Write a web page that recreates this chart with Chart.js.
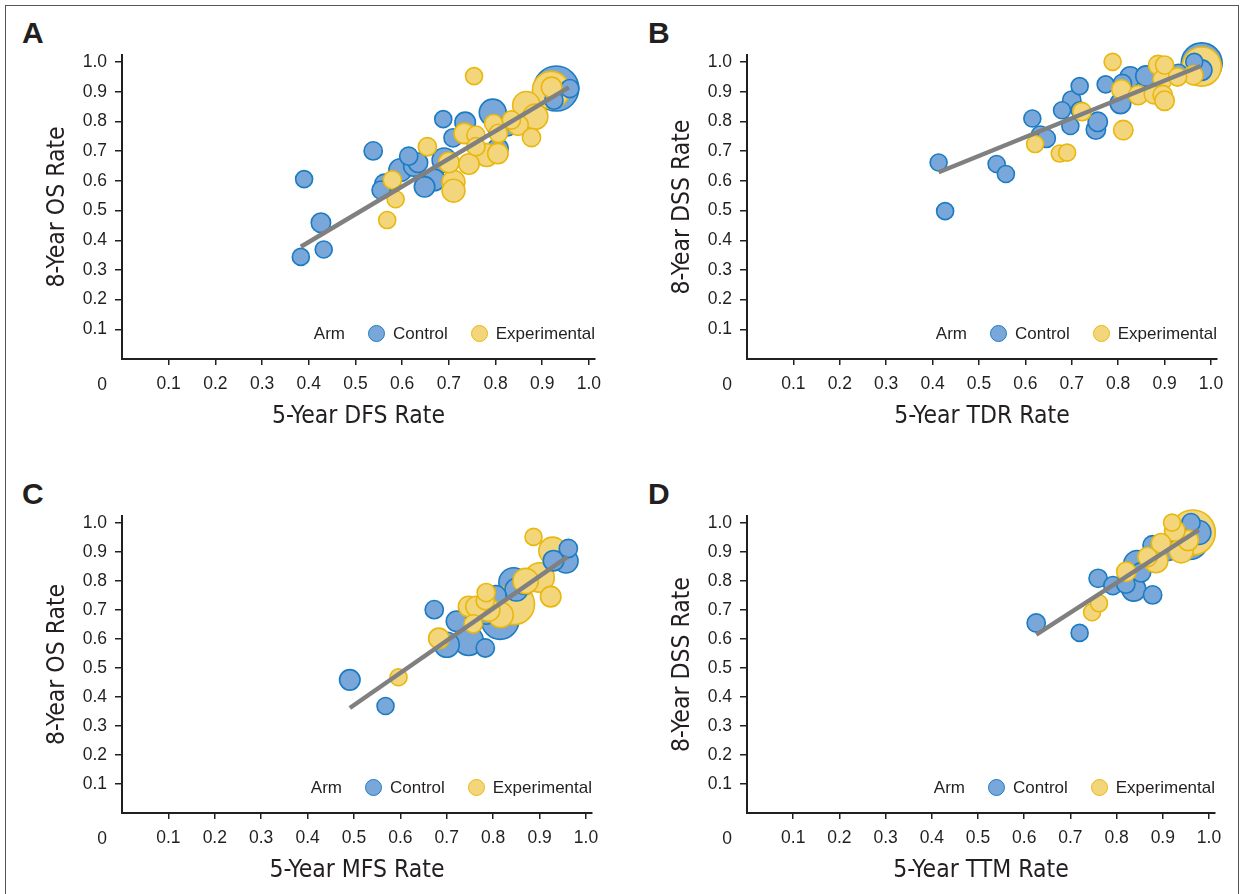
<!DOCTYPE html>
<html>
<head>
<meta charset="utf-8">
<script src="https://cdn.jsdelivr.net/npm/chart.js@4.4.0/dist/chart.umd.min.js"></script>
<style>
  html, body { margin: 0; padding: 0; background: #fff; }
  body { width: 1242px; height: 894px; position: relative; overflow: hidden; font-family: 'Liberation Sans', Arial, sans-serif; color: #231f20; }
  .frame { position: absolute; left: 5px; top: 5px; width: 1232px; height: 900px; border: 1.5px solid #555; border-bottom: none; }
  .panel { position: absolute; height: 447px; }
  .panel canvas { position: absolute; left: 0; top: 0; }
  .tag { position: absolute; font: bold 30px/30px 'Liberation Sans', Arial, sans-serif; }
  .legend { position: absolute; display: flex; align-items: center; height: 20px; font-size: 17px; white-space: nowrap; }
  .legend .dot { width: 17px; height: 17px; border-radius: 50%; box-sizing: border-box; border: 1.5px solid; margin: 0 8px 0 23px; }
</style>
</head>
<body>
<div class="frame"></div>
<div class="tag" style="left:22px;top:18px">A</div>
<div class="tag" style="left:648px;top:18px">B</div>
<div class="tag" style="left:22px;top:479px">C</div>
<div class="tag" style="left:648px;top:479px">D</div>
<div class="panel" id="panelA" style="left:0;top:0;width:620px"><canvas id="chartA" width="620" height="447"></canvas></div>
<div class="panel" id="panelB" style="left:620px;top:0;width:622px"><canvas id="chartB" width="622" height="447"></canvas></div>
<div class="panel" id="panelC" style="left:0;top:447px;width:620px"><canvas id="chartC" width="620" height="447"></canvas></div>
<div class="panel" id="panelD" style="left:620px;top:447px;width:622px"><canvas id="chartD" width="622" height="447"></canvas></div>
<script>
// ---- data ----
// n = approx. number of patients in the arm (drives bubble area)

// A: 5-year DFS vs 8-year OS
const ctrlA_x = [0.383, 0.390, 0.426, 0.432, 0.538, 0.555, 0.562, 0.596, 0.614, 0.625, 0.634, 0.648, 0.669, 0.690, 0.688, 0.709, 0.735, 0.794, 0.803, 0.805, 0.826, 0.930, 0.925, 0.959]
const ctrlA_y = [0.344, 0.606, 0.459, 0.369, 0.701, 0.569, 0.590, 0.636, 0.683, 0.650, 0.661, 0.580, 0.603, 0.670, 0.808, 0.745, 0.797, 0.830, 0.782, 0.709, 0.782, 0.911, 0.872, 0.911]
const ctrlA_n = [100, 100, 130, 100, 115, 115, 130, 180, 115, 145, 130, 145, 160, 200, 100, 115, 145, 250, 130, 145, 115, 700, 115, 115]
const expA_x = [0.754, 0.568, 0.586, 0.579, 0.654, 0.700, 0.710, 0.710, 0.743, 0.733, 0.758, 0.758, 0.781, 0.805, 0.796, 0.806, 0.834, 0.848, 0.877, 0.866, 0.885, 0.919, 0.920]
const expA_y = [0.953, 0.468, 0.538, 0.603, 0.715, 0.662, 0.597, 0.567, 0.657, 0.760, 0.754, 0.715, 0.687, 0.692, 0.793, 0.760, 0.805, 0.788, 0.746, 0.855, 0.816, 0.906, 0.915]
const expA_n = [100, 100, 100, 115, 115, 145, 180, 180, 145, 145, 115, 115, 180, 145, 115, 115, 115, 145, 115, 260, 220, 480, 145]
const fitA_x = [0.383, 0.957]
const fitA_y = [0.378, 0.915]

// B: 5-year TDR vs 8-year DSS
const ctrlB_x = [0.413, 0.427, 0.538, 0.558, 0.615, 0.632, 0.645, 0.679, 0.700, 0.697, 0.717, 0.717, 0.752, 0.756, 0.773, 0.805, 0.809, 0.826, 0.860, 0.930, 0.980, 0.964, 0.980]
const ctrlB_y = [0.662, 0.498, 0.657, 0.623, 0.810, 0.754, 0.743, 0.838, 0.872, 0.785, 0.919, 0.838, 0.773, 0.799, 0.925, 0.861, 0.928, 0.950, 0.953, 0.962, 0.996, 1.001, 0.973]
const ctrlB_n = [100, 100, 100, 100, 100, 115, 115, 100, 115, 100, 100, 100, 130, 130, 100, 145, 115, 145, 145, 115, 580, 100, 145]
const expB_x = [0.788, 0.621, 0.674, 0.690, 0.722, 0.811, 0.807, 0.843, 0.877, 0.886, 0.900, 0.896, 0.896, 0.900, 0.928, 0.962, 0.980]
const expB_y = [1.001, 0.724, 0.692, 0.695, 0.833, 0.771, 0.908, 0.889, 0.892, 0.990, 0.990, 0.942, 0.889, 0.870, 0.950, 0.956, 0.985]
const expB_n = [100, 100, 100, 100, 115, 130, 130, 130, 130, 130, 115, 130, 130, 130, 115, 130, 530]
const fitB_x = [0.413, 0.978]
const fitB_y = [0.629, 0.987]

// C: 5-year MFS vs 8-year OS
const ctrlC_x = [0.491, 0.568, 0.673, 0.700, 0.721, 0.747, 0.783, 0.785, 0.806, 0.815, 0.844, 0.868, 0.850, 0.957, 0.962, 0.930]
const ctrlC_y = [0.459, 0.369, 0.701, 0.580, 0.661, 0.594, 0.569, 0.686, 0.749, 0.663, 0.795, 0.789, 0.770, 0.869, 0.912, 0.870]
const ctrlC_n = [145, 100, 115, 215, 145, 300, 115, 145, 145, 480, 300, 145, 180, 200, 115, 145]
const expC_x = [0.887, 0.596, 0.683, 0.747, 0.757, 0.763, 0.783, 0.790, 0.816, 0.845, 0.870, 0.900, 0.924, 0.928, 0.785]
const expC_y = [0.952, 0.468, 0.602, 0.712, 0.652, 0.712, 0.732, 0.700, 0.683, 0.720, 0.800, 0.812, 0.746, 0.904, 0.760]
const expC_n = [100, 100, 145, 145, 115, 145, 115, 180, 220, 580, 220, 300, 145, 260, 115]
const fitC_x = [0.491, 0.960]
const fitC_y = [0.362, 0.883]

// D: 5-year TTM vs 8-year DSS
const ctrlD_x = [0.626, 0.720, 0.760, 0.792, 0.820, 0.837, 0.878, 0.845, 0.853, 0.878, 0.885, 0.912, 0.961, 0.978, 0.958]
const ctrlD_y = [0.655, 0.621, 0.809, 0.784, 0.789, 0.772, 0.752, 0.858, 0.830, 0.923, 0.870, 0.906, 1.001, 0.967, 0.938]
const ctrlD_n = [115, 100, 115, 115, 115, 200, 115, 260, 130, 130, 145, 145, 115, 200, 480]
const expD_x = [0.747, 0.762, 0.821, 0.867, 0.885, 0.920, 0.940, 0.955, 0.965, 0.926, 0.896]
const expD_y = [0.692, 0.723, 0.832, 0.883, 0.870, 1.001, 0.904, 0.940, 0.967, 0.973, 0.930]
const expD_n = [100, 100, 130, 130, 200, 100, 200, 145, 700, 145, 130]
const fitD_x = [0.626, 0.978]
const fitD_y = [0.615, 0.976]

const tickValues = [0.1, 0.2, 0.3, 0.4, 0.5, 0.6, 0.7, 0.8, 0.9, 1.0]
const armNames = ['Control', 'Experimental']

// ---- style ----
const ink = '#231f20'
const ctrlColor = {fill: '#7aa7da', line: '#1b7cc2'}
const expColor = {fill: '#f3d67c', line: '#e9b80e'}
const fitColor = '#808080'
const titleFont = {family: "'DejaVu Sans Condensed', 'Liberation Sans Narrow', sans-serif", size: 24.5}
const tickFont = {family: "'Liberation Sans', Arial, sans-serif", size: 17.5}
const bigN = 250

Chart.defaults.color = ink
Chart.defaults.font.family = "'Liberation Sans', Arial, sans-serif"

function bubbleRadius(n) {
    return 0.85 * Math.sqrt(n)
}

function toBubbles(xs, ys, ns) {
    let pts = xs.map(function (x, i) {
        return {x: x, y: ys[i], n: ns[i], r: bubbleRadius(ns[i])}
    })
    pts.sort(function (a, b) { return b.n - a.n })
    return pts
}

function bubbleSet(label, pts, color, order) {
    return {
        type: 'bubble',
        label: label,
        data: pts,
        backgroundColor: color.fill,
        borderColor: color.line,
        borderWidth: 1.6,
        clip: false,
        order: order
    }
}

// draws the lone "0" at the axes' corner
const zeroLabel = {
    id: 'zeroLabel',
    afterDraw(chart) {
        const ctx = chart.ctx
        const area = chart.chartArea
        ctx.save()
        ctx.font = tickFont.size + 'px ' + tickFont.family
        ctx.fillStyle = ink
        ctx.textAlign = 'center'
        ctx.textBaseline = 'middle'
        ctx.fillText('0', area.left - 20, area.bottom + 26)
        ctx.restore()
    }
}

function tickColor(c) {
    return c.tick && c.tick.value === 0 ? 'rgba(0,0,0,0)' : ink
}

function tickText(v) {
    return v === 0 ? '' : Number(v).toFixed(1)
}

function makePanel(canvasId, panelId, box, arms, fit, xTitle, yTitle) {
    const ctrl = toBubbles(arms[0][0], arms[0][1], arms[0][2])
    const exp = toBubbles(arms[1][0], arms[1][1], arms[1][2])
    const fitPts = fit[0].map(function (x, i) { return {x: x, y: fit[1][i]} })
    const H = 447
    const xh = 72
    const titleHalf = titleFont.size * 0.6

    const chart = new Chart(document.getElementById(canvasId), {
        type: 'bubble',
        data: {
            datasets: [
                bubbleSet(armNames[0], ctrl.filter(p => p.n >= bigN), ctrlColor, 4),
                bubbleSet(armNames[1], exp.filter(p => p.n >= bigN), expColor, 3),
                bubbleSet(armNames[0], ctrl.filter(p => p.n < bigN), ctrlColor, 2),
                bubbleSet(armNames[1], exp.filter(p => p.n < bigN), expColor, 1),
                {
                    type: 'line',
                    label: 'Fit',
                    data: fitPts,
                    borderColor: fitColor,
                    borderWidth: 4.5,
                    pointRadius: 0,
                    fill: false,
                    order: 0
                }
            ]
        },
        options: {
            responsive: false,
            animation: false,
            events: [],
            layout: {
                padding: {left: 0, top: box.top, right: box.w - box.right, bottom: H - box.bottom - xh}
            },
            plugins: {
                legend: {display: false},
                tooltip: {enabled: false}
            },
            scales: {
                x: {
                    type: 'linear',
                    min: 0,
                    max: 1.013,
                    afterFit(scale) { scale.height = xh },
                    afterBuildTicks(scale) { scale.ticks = [0].concat(tickValues).map(v => ({value: v})) },
                    grid: {display: true, drawOnChartArea: false, drawTicks: true, tickLength: 6, lineWidth: 1.5, color: tickColor},
                    border: {display: true, color: ink, width: 2},
                    ticks: {font: tickFont, color: ink, padding: 9, maxRotation: 0, autoSkip: false, callback: tickText},
                    title: {display: true, text: xTitle, color: ink, font: titleFont, padding: {top: 0, bottom: 14.5 - titleHalf}}
                },
                y: {
                    type: 'linear',
                    min: 0,
                    max: 1.024,
                    afterFit(scale) { scale.width = box.left },
                    afterBuildTicks(scale) { scale.ticks = [0].concat(tickValues).map(v => ({value: v})) },
                    grid: {display: true, drawOnChartArea: false, drawTicks: true, tickLength: 7, lineWidth: 1.5, color: tickColor},
                    border: {display: true, color: ink, width: 2},
                    ticks: {font: tickFont, color: ink, padding: 8, autoSkip: false, callback: tickText},
                    title: {display: true, text: yTitle, color: ink, font: titleFont, padding: {top: box.left - 64.5 - titleHalf, bottom: 0}}
                }
            }
        },
        plugins: [zeroLabel]
    })

    // legend, bottom right inside the plot
    const area = chart.chartArea
    const legend = document.createElement('div')
    legend.className = 'legend'
    let html = '<span>Arm</span>'
    ;[ctrlColor, expColor].forEach(function (c, i) {
        html += '<span class="dot" style="background:' + c.fill + ';border-color:' + c.line + '"></span><span>' + armNames[i] + '</span>'
    })
    legend.innerHTML = html
    legend.style.right = (box.w - area.right) + 'px'
    legend.style.top = (area.bottom - 25.5 - 10) + 'px'
    document.getElementById(panelId).appendChild(legend)
    return chart
}

makePanel('chartA', 'panelA', {w: 620, left: 122, right: 595, top: 55, bottom: 359},
    [[ctrlA_x, ctrlA_y, ctrlA_n], [expA_x, expA_y, expA_n]], [fitA_x, fitA_y], '5-Year DFS Rate', '8-Year OS Rate')
makePanel('chartB', 'panelB', {w: 622, left: 127, right: 597, top: 55, bottom: 359},
    [[ctrlB_x, ctrlB_y, ctrlB_n], [expB_x, expB_y, expB_n]], [fitB_x, fitB_y], '5-Year TDR Rate', '8-Year DSS Rate')
makePanel('chartC', 'panelC', {w: 620, left: 122, right: 592, top: 69, bottom: 366},
    [[ctrlC_x, ctrlC_y, ctrlC_n], [expC_x, expC_y, expC_n]], [fitC_x, fitC_y], '5-Year MFS Rate', '8-Year OS Rate')
makePanel('chartD', 'panelD', {w: 622, left: 127, right: 595, top: 69, bottom: 366},
    [[ctrlD_x, ctrlD_y, ctrlD_n], [expD_x, expD_y, expD_n]], [fitD_x, fitD_y], '5-Year TTM Rate', '8-Year DSS Rate')
</script>
</body>
</html>
